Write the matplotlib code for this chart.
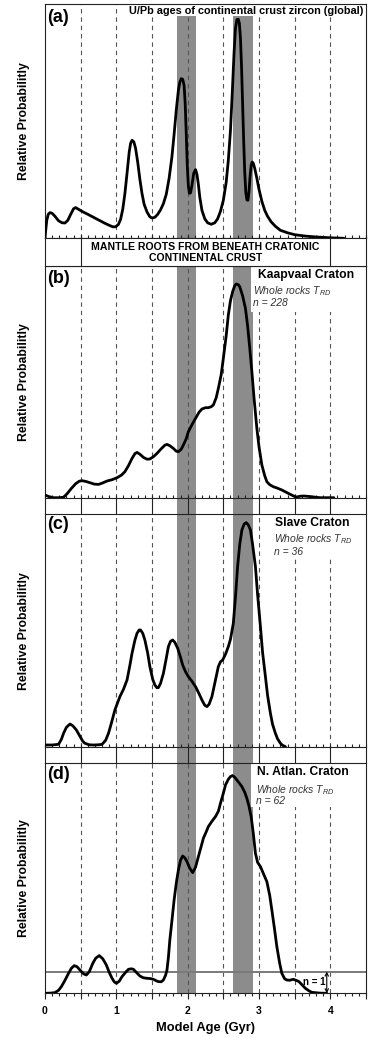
import matplotlib
matplotlib.use('Agg')
import matplotlib.pyplot as plt
from matplotlib.patches import Rectangle
import matplotlib.transforms as mtrans
import numpy as np

plt.rcParams['font.family'] = ['Liberation Sans', 'DejaVu Sans']
plt.rcParams['mathtext.fontset'] = 'custom'
plt.rcParams['mathtext.it'] = 'Liberation Sans:italic'
plt.rcParams['mathtext.rm'] = 'Liberation Sans'

# ---------------- data ----------------
age_a = [0.00, 0.01, 0.025, 0.045, 0.07, 0.10, 0.14, 0.19, 0.24, 0.28, 0.32, 0.36, 0.40, 0.43,
         0.47, 0.53, 0.60, 0.68, 0.76, 0.84, 0.90, 0.95, 0.99, 1.03, 1.06, 1.09, 1.12, 1.15,
         1.18, 1.20, 1.22, 1.245, 1.27, 1.30, 1.33, 1.36, 1.39, 1.43, 1.47, 1.50, 1.54, 1.58,
         1.62, 1.66, 1.70, 1.74, 1.78, 1.81, 1.84, 1.87, 1.89, 1.91, 1.93, 1.95, 1.965, 1.98,
         1.995, 2.01, 2.025, 2.04, 2.06, 2.085, 2.11, 2.13, 2.15, 2.17, 2.20, 2.24, 2.28, 2.33,
         2.38, 2.42, 2.46, 2.50, 2.54, 2.57, 2.60, 2.625, 2.65, 2.67, 2.69, 2.71, 2.725, 2.74,
         2.755, 2.77, 2.785, 2.80, 2.815, 2.83, 2.845, 2.86, 2.875, 2.89, 2.905, 2.92, 2.94,
         2.97, 3.00, 3.04, 3.08, 3.12, 3.17, 3.23, 3.30, 3.40, 3.50, 3.65, 3.81, 4.00, 4.19]
prob_a = [0, 8, 18, 24, 25.7, 25, 22, 17.5, 15.5, 15.3, 18, 24, 29.5, 30.7,
          29, 26.5, 24, 21, 18, 15, 13, 11.5, 11.5, 14, 19, 29, 44.7, 65,
          86, 95, 98, 96.5, 90, 76, 59, 44.7, 34, 26.3, 21.5, 20.3, 21, 24,
          28.5, 34.7, 44, 60, 82, 104, 128, 148, 156, 159.7, 159, 153, 135, 105,
          72, 52, 45, 45.5, 53, 65, 68.7, 64, 54, 41, 28, 19.5, 15.5, 14,
          15.5, 19.5, 27, 38, 56, 78, 108, 145, 185, 210, 218.7, 219, 215, 200,
          172, 135, 98, 66, 46, 38.5, 38, 47, 62, 73, 76.3, 75, 70,
          60, 49, 37, 28, 22, 16.5, 12, 8, 5.5, 3.6, 2.2, 1.3, 0.5, 0]

age_b = [0.00, 0.05, 0.12, 0.20, 0.26, 0.31, 0.37, 0.43, 0.48, 0.52, 0.57, 0.63, 0.69, 0.75,
         0.81, 0.87, 0.94, 1.01, 1.07, 1.12, 1.17, 1.22, 1.26, 1.29, 1.33, 1.38, 1.43, 1.47,
         1.52, 1.57, 1.63, 1.68, 1.71, 1.75, 1.80, 1.84, 1.87, 1.91, 1.94, 1.98, 2.01, 2.06,
         2.11, 2.16, 2.20, 2.25, 2.29, 2.33, 2.36, 2.40, 2.43, 2.47, 2.50, 2.54, 2.57, 2.60,
         2.63, 2.66, 2.68, 2.71, 2.73, 2.77, 2.81, 2.84, 2.87, 2.90, 2.93, 2.97, 3.00, 3.04,
         3.08, 3.11, 3.15, 3.20, 3.26, 3.32, 3.38, 3.44, 3.50, 3.53, 3.58, 3.63, 3.69, 3.74,
         3.80, 3.86, 4.05]
prob_b = [2.7, 1.2, 0, 0, 0.5, 4, 9.3, 14, 16.5, 17, 16.3, 15, 13.6, 13.3,
          14.8, 16.7, 18, 20, 22.5, 26, 32, 39.3, 44, 45.3, 43.5, 40.3, 38.5, 38.7,
          41, 44.3, 49, 52.5, 53.3, 52, 49.3, 46.5, 46, 48.5, 52.7, 59, 66, 73,
          79.3, 85.5, 88.7, 90, 90, 91, 92.7, 100, 109.3, 123, 139.3, 162, 182.7, 197,
          206, 212, 213.7, 213, 211, 202, 189.3, 172, 150, 126, 100, 69.3, 51, 32.7,
          22, 16, 13, 11, 9.5, 7.7, 5.5, 3.3, 1.2, 0.7, 1.5, 1.7, 1.3, 1,
          0.4, 0, 0]

age_c = [0.00, 0.10, 0.19, 0.23, 0.26, 0.30, 0.35, 0.39, 0.44, 0.49, 0.53, 0.56, 0.62, 0.68,
         0.75, 0.80, 0.85, 0.89, 0.93, 0.98, 1.02, 1.05, 1.10, 1.15, 1.19, 1.22, 1.26, 1.29,
         1.32, 1.34, 1.37, 1.40, 1.44, 1.47, 1.51, 1.54, 1.57, 1.59, 1.62, 1.66, 1.70, 1.73,
         1.76, 1.79, 1.82, 1.86, 1.90, 1.93, 1.97, 2.01, 2.06, 2.11, 2.16, 2.20, 2.24, 2.27,
         2.30, 2.34, 2.38, 2.43, 2.46, 2.49, 2.53, 2.57, 2.60, 2.64, 2.67, 2.70, 2.73, 2.76,
         2.79, 2.82, 2.85, 2.88, 2.91, 2.95, 2.98, 3.02, 3.05, 3.09, 3.12, 3.16, 3.19, 3.23,
         3.26, 3.30, 3.33, 3.37]
prob_c = [2.3, 2.3, 3, 8, 14, 20, 23.3, 21.5, 17.3, 11, 6, 4, 2.5, 2.3,
          2.5, 3, 7, 14, 24, 37.3, 45, 50.7, 58, 67.3, 82, 94, 107, 114,
          117.3, 117.3, 114, 107.3, 94, 80.7, 68, 62.3, 59.5, 59.7, 64, 74, 89, 100.7,
          106, 107.3, 105, 99, 90, 82.3, 75.5, 70.7, 66, 60.7, 53.5, 47.3, 42, 40.7,
          43, 50.7, 64, 80.7, 85.5, 87.3, 93, 100.7, 108, 124, 150, 180.7, 203, 217.3,
          223, 224.7, 222.5, 217.3, 203, 180.7, 153, 120.7, 95, 70.7, 52, 34, 23, 14,
          8.5, 4, 2, 0.7]

age_d = [0.00, 0.08, 0.14, 0.19, 0.23, 0.28, 0.33, 0.37, 0.41, 0.45, 0.49, 0.54, 0.58, 0.62,
         0.67, 0.71, 0.76, 0.81, 0.86, 0.90, 0.94, 0.97, 1.00, 1.04, 1.08, 1.13, 1.17, 1.21,
         1.24, 1.28, 1.33, 1.38, 1.43, 1.48, 1.52, 1.56, 1.59, 1.63, 1.66, 1.69, 1.71, 1.73,
         1.75, 1.78, 1.81, 1.84, 1.87, 1.90, 1.93, 1.96, 1.99, 2.03, 2.07, 2.11, 2.15, 2.19,
         2.22, 2.26, 2.29, 2.34, 2.39, 2.43, 2.46, 2.50, 2.53, 2.57, 2.60, 2.63, 2.66, 2.69,
         2.72, 2.76, 2.80, 2.83, 2.86, 2.89, 2.92, 2.95, 2.98, 3.02, 3.06, 3.11, 3.15, 3.18,
         3.22, 3.25, 3.29, 3.32, 3.36, 3.39, 3.43, 3.48, 3.52, 3.56, 3.61, 3.65, 3.70, 3.74,
         3.85, 3.95]
prob_d = [0, 0.2, 0.7, 3, 6.7, 13, 20, 25, 27.7, 26.5, 23.3, 19.5, 18.3, 21.5,
          30, 35, 37.7, 34.5, 28.3, 21, 15, 11.5, 10, 12, 16.7, 21, 24, 24.5,
          24, 21, 17.3, 15.5, 15, 14.7, 14, 12.5, 11.7, 11.5, 13.3, 18, 23.3, 36,
          53.3, 73, 93.3, 110, 123.3, 133, 137.3, 135.5, 131.7, 125, 120.7, 126, 136.7, 147,
          155, 161.5, 166.7, 172, 176.7, 182, 190, 200, 208.3, 214, 216.7, 217.7, 216, 213.3,
          210.5, 206.7, 201, 195, 187, 176.7, 160, 140, 131, 126.7, 120, 111.7, 98, 83.3,
          63, 46.7, 30, 20, 14.5, 13.3, 13, 14, 13, 11.7, 8, 5, 2.5, 1,
          0.2, 0]

n1_level = 21.7                     # height of one sample in panel (d)
band_ranges = [(1.85, 2.12), (2.63, 2.92)]
grid_ages = [0.5, 1.0, 1.5, 2.0, 2.5, 3.0, 3.5, 4.0]
tick_ages = [0, 1, 2, 3, 4]

panel_labels = ['(a)', '(b)', '(c)', '(d)']
panel_titles = ['U/Pb ages of continental crust zircon (global)',
                'Kaapvaal Craton', 'Slave Craton', 'N. Atlan. Craton']
panel_n = [None, 'n = 228', 'n = 36', 'n = 62']
banner_text = 'MANTLE ROOTS FROM BENEATH CRATONIC\nCONTINENTAL CRUST'

# ---------------- layout ----------------
W, H = 376, 1038
fig = plt.figure(figsize=(W / 100, H / 100), dpi=100)

def rect(top, bottom):
    return [45 / W, 1 - bottom / H, 321 / W, (bottom - top) / H]

pan = [(4.3, 238.3), (266.0, 497.7), (514.0, 747.3), (763.0, 993.3)]
banner_px = (238.3, 266.0)

BAND_C = '#8c8c8c'
DASH_C = '#555555'
FRAME_C = '#222222'

ages = [age_a, age_b, age_c, age_d]
probs = [prob_a, prob_b, prob_c, prob_d]
gaps = [0, 514.0 - 497.7, 763.0 - 747.3, 0]
covers = [(1.17, 0.949), (2.885, 0.801), (3.10, 0.811), (2.885, 0.810)]
title_pos = [(0.991, 0.971, 'right'), (0.664, 0.961, 'left'),
             (0.717, 0.963, 'left'), (0.660, 0.962, 'left')]
sub_pos = [None, (0.648, 0.892, 0.840), (0.713, 0.893, 0.838), (0.657, 0.883, 0.836)]
lab_y = [0.944, 0.948, 0.957, 0.952]

for i, (top, bot) in enumerate(pan):
    ax = fig.add_axes(rect(top, bot))
    hpx = bot - top
    ax.set_xlim(0, 4.5)
    ax.set_ylim(0, hpx)
    ax.set_yticks([])
    for s in ax.spines.values():
        s.set_linewidth(0.8)
        s.set_color(FRAME_C)
    ymin = -gaps[i] / hpx
    for lo, hi in band_ranges:
        ax.axvspan(lo, hi, ymin=ymin, ymax=1, color=BAND_C, lw=0, zorder=1, clip_on=False)
    for g in grid_ages:
        ax.axvline(g, color=DASH_C, lw=0.8, ls=(0, (4, 3.5)), zorder=1.5)
    cx, cy = covers[i]
    trans = mtrans.blended_transform_factory(ax.transData, ax.transAxes)
    ax.add_patch(Rectangle((cx, cy), 4.5 - cx, 1 - cy, transform=trans,
                           facecolor='white', edgecolor='none', zorder=2))
    ax.plot(ages[i], probs[i], color='black', lw=2.0, zorder=3,
            solid_joinstyle='round', solid_capstyle='round')
    ax.text(0.008, lab_y[i], panel_labels[i], transform=ax.transAxes, fontsize=13,
            fontweight='bold', ha='left', va='center', zorder=5)
    tx, ty, tha = title_pos[i]
    ax.text(tx, ty, panel_titles[i], transform=ax.transAxes,
            fontsize=7.8 if i == 0 else 8.7, fontweight='bold', ha=tha, va='center', zorder=5)
    if sub_pos[i] is not None:
        sx, sy1, sy2 = sub_pos[i]
        ax.text(sx, sy1, r'Whole rocks $T_{RD}$', transform=ax.transAxes, fontsize=7.5,
                style='italic', color='#333333', ha='left', va='center', zorder=5)
        ax.text(sx, sy2, panel_n[i], transform=ax.transAxes, fontsize=7.5,
                style='italic', color='#333333', ha='left', va='center', zorder=5)
    ax.set_ylabel('Relative Probabilitly', fontsize=8.8, fontweight='bold')
    ax.yaxis.set_label_coords(-15 / 321, 0.5)

    ax.set_xticks(np.arange(0, 4.51, 0.5))
    ax.set_xticks(np.arange(0, 4.51, 0.1), minor=True)
    ax.xaxis.remove_overlapping_locs = False
    if i == 0:
        ax.tick_params(axis='x', which='major', direction='in', length=2.2, width=0.8,
                       color=FRAME_C, labelbottom=False)
        ax.tick_params(axis='x', which='minor', direction='in', length=2.2, width=0.8,
                       color=FRAME_C)
    elif i in (1, 2):
        ax.tick_params(axis='x', which='major', direction='out', length=gaps[i] * 0.72,
                       width=0.8, color=FRAME_C, labelbottom=False)
        ax.tick_params(axis='x', which='minor', direction='in', length=2.2, width=0.8,
                       color=FRAME_C)
    else:
        ax.set_xticklabels([str(int(v)) if v in tick_ages else ''
                            for v in np.arange(0, 4.51, 0.5)])
        ax.tick_params(axis='x', which='major', direction='out', length=4, width=0.8,
                       color=FRAME_C, labelsize=7.5, pad=5.5)
        ax.tick_params(axis='x', which='minor', direction='out', length=2.5, width=0.8,
                       color=FRAME_C)
        for t in ax.get_xticklabels():
            t.set_fontweight('bold')
        ax.set_xlabel('Model Age (Gyr)', fontsize=9.3, fontweight='bold', labelpad=4)
        ax.axhline(n1_level, color='#7a7a7a', lw=1.4, zorder=2.5)
        ax.annotate('', xy=(3.95, n1_level), xytext=(3.95, 0),
                    arrowprops=dict(arrowstyle='<->', color='black', lw=0.8,
                                    shrinkA=0, shrinkB=0, mutation_scale=6), zorder=4)
        ax.text(3.93, n1_level / 2, 'n = 1', fontsize=7, fontweight='bold',
                ha='right', va='center', zorder=5)

# banner between (a) and (b)
axb = fig.add_axes(rect(*banner_px))
axb.set_xlim(0, 4.5)
axb.set_ylim(0, 1)
axb.set_xticks([])
axb.set_yticks([])
for s in axb.spines.values():
    s.set_linewidth(0.8)
    s.set_color(FRAME_C)
for g in (0.5, 4.0):
    axb.axvline(g, color=FRAME_C, lw=0.8)
axb.text(2.25, 0.5, banner_text, fontsize=7.6, fontweight='bold', ha='center',
         va='center', linespacing=1.15)

fig.savefig('out.png', dpi=100)
